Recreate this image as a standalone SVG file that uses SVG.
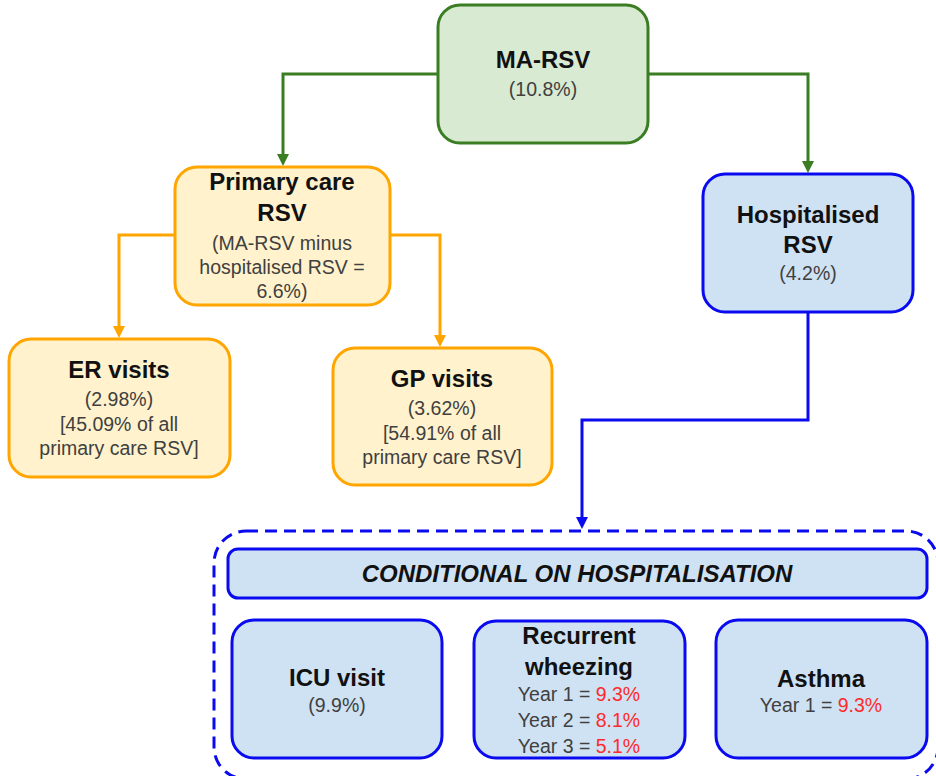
<svg xmlns="http://www.w3.org/2000/svg" width="936" height="776" viewBox="0 0 936 776">
<style>
text{font-family:"Liberation Sans",Arial,sans-serif;text-anchor:middle;fill:#404040;font-size:19.5px}
.t{font-weight:bold;fill:#111;font-size:24px}
.r{fill:#FF2A2A}
.g{fill:#D9EAD3;stroke:#3A7D22;stroke-width:3}
.o{fill:#FFF2CC;stroke:#FFA500;stroke-width:3}
.b{fill:#CFE2F3;stroke:#0A0AF0;stroke-width:3}
.cg{fill:none;stroke:#3A7D22;stroke-width:3}
.co{fill:none;stroke:#FFA500;stroke-width:3}
.cb{fill:none;stroke:#0A0AF0;stroke-width:3}
</style>
<g id="connectors">
<path class="cg" d="M438,74 H283 V156"/>
<path d="M277,154 L289,154 L283,166 Z" fill="#3A7D22"/>
<path class="cg" d="M648,74 H808 V163"/>
<path d="M802,161 L814,161 L808,173 Z" fill="#3A7D22"/>
<path class="co" d="M175,235 H119 V328"/>
<path d="M113,326 L125,326 L119,338 Z" fill="#FFA500"/>
<path class="co" d="M390,235 H440 V337"/>
<path d="M434,335 L446,335 L440,347 Z" fill="#FFA500"/>
<path class="cb" d="M808,312 V420 H582 V518"/>
<path d="M576,517 L588,517 L582,529 Z" fill="#0A0AF0"/>
</g>
<g id="container">
<rect x="214" y="531" width="724" height="248" rx="32" fill="none" stroke="#0A0AF0" stroke-width="3" stroke-dasharray="12,7"/>
</g>
<g id="ma-rsv">
<rect class="g" x="438" y="5" width="210" height="138" rx="22"/>
<text class="t" x="543" y="68" font-size="26">MA-RSV</text>
<text x="543" y="96" font-size="20">(10.8%)</text>
</g>
<g id="primary-care">
<rect class="o" x="175" y="167" width="215" height="138" rx="22"/>
<text class="t" x="282" y="190">Primary care</text>
<text class="t" x="282" y="221">RSV</text>
<text x="282" y="250">(MA-RSV minus</text>
<text x="282" y="274">hospitalised RSV =</text>
<text x="282" y="298">6.6%)</text>
</g>
<g id="er">
<rect class="o" x="9" y="339" width="221" height="138" rx="22"/>
<text class="t" x="119" y="378">ER visits</text>
<text x="119" y="406">(2.98%)</text>
<text x="119" y="431">[45.09% of all</text>
<text x="119" y="455">primary care RSV]</text>
</g>
<g id="gp">
<rect class="o" x="333" y="348" width="219" height="137" rx="22"/>
<text class="t" x="442" y="387">GP visits</text>
<text x="442" y="415">(3.62%)</text>
<text x="442" y="440">[54.91% of all</text>
<text x="442" y="464">primary care RSV]</text>
</g>
<g id="hospitalised">
<rect class="b" x="703" y="174" width="210" height="138" rx="22"/>
<text class="t" x="808" y="223">Hospitalised</text>
<text class="t" x="808" y="253">RSV</text>
<text x="808" y="280">(4.2%)</text>
</g>
<g id="conditional">
<rect class="b" x="228" y="549" width="699" height="49" rx="10"/>
<text class="t" x="577" y="582" font-size="21.5" font-style="italic">CONDITIONAL ON HOSPITALISATION</text>
</g>
<g id="icu">
<rect class="b" x="232" y="620" width="210" height="138" rx="22"/>
<text class="t" x="337" y="686">ICU visit</text>
<text x="337" y="712">(9.9%)</text>
</g>
<g id="wheezing">
<rect class="b" x="474" y="621" width="211" height="137" rx="22"/>
<text class="t" x="579" y="644">Recurrent</text>
<text class="t" x="579" y="675">wheezing</text>
<text x="579" y="701">Year 1 = <tspan class="r">9.3%</tspan></text>
<text x="579" y="727">Year 2 = <tspan class="r">8.1%</tspan></text>
<text x="579" y="753">Year 3 = <tspan class="r">5.1%</tspan></text>
</g>
<g id="asthma">
<rect class="b" x="716" y="620" width="211" height="138" rx="22"/>
<text class="t" x="821" y="687">Asthma</text>
<text x="821" y="712">Year 1 = <tspan class="r">9.3%</tspan></text>
</g>
</svg>
